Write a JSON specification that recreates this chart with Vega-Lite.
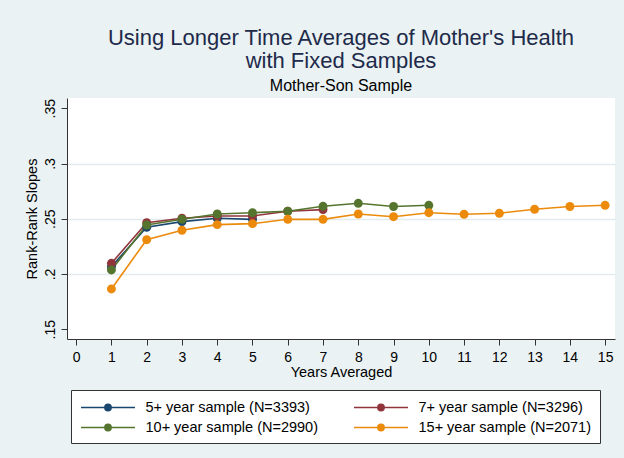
{
  "$schema": "https://vega.github.io/schema/vega-lite/v6.json",
  "width": 548,
  "height": 241,
  "autosize": {"type": "none"},
  "padding": {"left": 67, "top": 98, "right": 9, "bottom": 119},
  "background": "#eaf2f3",
  "title": {
    "text": ["Using Longer Time Averages of Mother's Health", "with Fixed Samples"],
    "subtitle": "Mother-Son Sample",
    "anchor": "middle",
    "font": "Liberation Sans",
    "fontSize": 22,
    "fontWeight": "normal",
    "color": "#1e2a4a",
    "lineHeight": 23,
    "subtitleFont": "Liberation Sans",
    "subtitleFontSize": 16,
    "subtitleColor": "#000000",
    "subtitlePadding": 5,
    "offset": 3
  },
  "data": {
    "values": [
      {"sample": "5+ year sample (N=3393)", "years": 1, "slope": 0.2067},
      {"sample": "5+ year sample (N=3393)", "years": 2, "slope": 0.2423},
      {"sample": "5+ year sample (N=3393)", "years": 3, "slope": 0.2474},
      {"sample": "5+ year sample (N=3393)", "years": 4, "slope": 0.2505},
      {"sample": "5+ year sample (N=3393)", "years": 5, "slope": 0.2495},
      {"sample": "7+ year sample (N=3296)", "years": 1, "slope": 0.2097},
      {"sample": "7+ year sample (N=3296)", "years": 2, "slope": 0.2465},
      {"sample": "7+ year sample (N=3296)", "years": 3, "slope": 0.2505},
      {"sample": "7+ year sample (N=3296)", "years": 4, "slope": 0.2525},
      {"sample": "7+ year sample (N=3296)", "years": 5, "slope": 0.2525},
      {"sample": "7+ year sample (N=3296)", "years": 6, "slope": 0.2568},
      {"sample": "7+ year sample (N=3296)", "years": 7, "slope": 0.2583},
      {"sample": "10+ year sample (N=2990)", "years": 1, "slope": 0.2037},
      {"sample": "10+ year sample (N=2990)", "years": 2, "slope": 0.2444},
      {"sample": "10+ year sample (N=2990)", "years": 3, "slope": 0.2495},
      {"sample": "10+ year sample (N=2990)", "years": 4, "slope": 0.2543},
      {"sample": "10+ year sample (N=2990)", "years": 5, "slope": 0.2555},
      {"sample": "10+ year sample (N=2990)", "years": 6, "slope": 0.2568},
      {"sample": "10+ year sample (N=2990)", "years": 7, "slope": 0.2613},
      {"sample": "10+ year sample (N=2990)", "years": 8, "slope": 0.264},
      {"sample": "10+ year sample (N=2990)", "years": 9, "slope": 0.2611},
      {"sample": "10+ year sample (N=2990)", "years": 10, "slope": 0.2622},
      {"sample": "15+ year sample (N=2071)", "years": 1, "slope": 0.1865},
      {"sample": "15+ year sample (N=2071)", "years": 2, "slope": 0.2311},
      {"sample": "15+ year sample (N=2071)", "years": 3, "slope": 0.2396},
      {"sample": "15+ year sample (N=2071)", "years": 4, "slope": 0.2447},
      {"sample": "15+ year sample (N=2071)", "years": 5, "slope": 0.2456},
      {"sample": "15+ year sample (N=2071)", "years": 6, "slope": 0.2495},
      {"sample": "15+ year sample (N=2071)", "years": 7, "slope": 0.2495},
      {"sample": "15+ year sample (N=2071)", "years": 8, "slope": 0.2543},
      {"sample": "15+ year sample (N=2071)", "years": 9, "slope": 0.2519},
      {"sample": "15+ year sample (N=2071)", "years": 10, "slope": 0.2555},
      {"sample": "15+ year sample (N=2071)", "years": 11, "slope": 0.2541},
      {"sample": "15+ year sample (N=2071)", "years": 12, "slope": 0.255},
      {"sample": "15+ year sample (N=2071)", "years": 13, "slope": 0.2586},
      {"sample": "15+ year sample (N=2071)", "years": 14, "slope": 0.2611},
      {"sample": "15+ year sample (N=2071)", "years": 15, "slope": 0.2622}
    ]
  },
  "mark": {"type": "line", "strokeWidth": 1.6, "point": {"filled": true, "size": 80, "opacity": 1}},
  "encoding": {
    "x": {
      "field": "years",
      "type": "quantitative",
      "scale": {"domain": [-0.26, 15.28], "nice": false, "zero": false},
      "axis": {
        "title": "Years Averaged",
        "values": [0, 1, 2, 3, 4, 5, 6, 7, 8, 9, 10, 11, 12, 13, 14, 15],
        "labelAngle": 0,
        "grid": false,
        "labelPadding": 5,
        "titlePadding": 1
      }
    },
    "y": {
      "field": "slope",
      "type": "quantitative",
      "scale": {"domain": [0.1412, 0.3593], "nice": false, "zero": false},
      "axis": {
        "title": "Rank-Rank Slopes",
        "values": [0.15, 0.2, 0.25, 0.3, 0.35],
        "labelExpr": "replace(format(datum.value, '.2~f'), '0.', '.')",
        "labelAngle": -90,
        "labelAlign": "center",
        "labelBaseline": "bottom",
        "labelPadding": 4,
        "titlePadding": 4,
        "grid": true,
        "gridColor": "#e2ebed",
        "gridWidth": 1.3,
        "gridOpacity": {"condition": {"test": "datum.value > 0.16 && datum.value < 0.34", "value": 1}, "value": 0}
      }
    },
    "color": {
      "field": "sample",
      "type": "nominal",
      "scale": {
        "domain": ["5+ year sample (N=3393)", "7+ year sample (N=3296)", "10+ year sample (N=2990)", "15+ year sample (N=2071)"],
        "range": ["#1a476f", "#90353b", "#55752f", "#ec8a0c"]
      },
      "legend": {
        "title": null,
        "orient": "none",
        "direction": "horizontal",
        "legendX": 4,
        "legendY": 292,
        "columns": 2,
        "columnPadding": 33,
        "rowPadding": 5,
        "padding": 9,
        "fillColor": "white",
        "strokeColor": "#333333",
        "symbolType": "M-3.6,0L3.6,0M-0.43,0A0.43,0.43,0,1,0,0.43,0A0.43,0.43,0,1,0,-0.43,0",
        "symbolSize": 225,
        "symbolOffset": 19.5,
        "symbolStrokeWidth": 1.4,
        "labelOffset": 29,
        "labelFont": "Liberation Sans",
        "labelFontSize": 14.5,
        "labelColor": "#000000",
        "labelLimit": 400,
        "labelExpr": "datum.label + '\u00a0\u00a0\u00a0\u00a0\u00a0'",
        "encode": {
          "symbols": {
            "update": {
              "fill": {"scale": "color", "field": "value"},
              "stroke": {"scale": "color", "field": "value"},
              "opacity": {"value": 1}
            }
          }
        }
      }
    }
  },
  "config": {
    "view": {"fill": "white", "stroke": null},
    "axis": {
      "domainColor": "#333333",
      "tickColor": "#333333",
      "tickSize": 6,
      "labelFont": "Liberation Sans",
      "labelFontSize": 14,
      "labelColor": "#000000",
      "titleFont": "Liberation Sans",
      "titleFontSize": 14.5,
      "titleFontWeight": "normal",
      "titleColor": "#000000"
    }
  }
}
